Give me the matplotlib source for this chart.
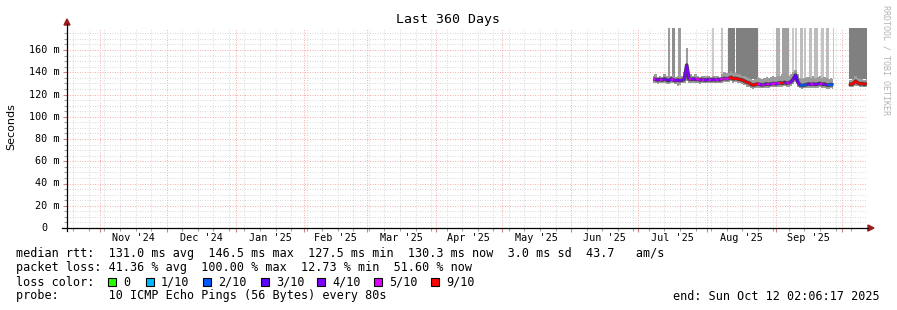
import datetime as dt
import matplotlib
matplotlib.use('Agg')
import matplotlib.pyplot as plt
import matplotlib.transforms as mtransforms
from matplotlib.lines import Line2D
from matplotlib.patches import Rectangle, Polygon

W, H = 897, 310
MONO = 'DejaVu Sans Mono'

# ---------------------------------------------------------------------------
# data (values in ms)
# ---------------------------------------------------------------------------
t_start = dt.datetime(2024, 10, 17, 2, 6, 17)
t_end = dt.datetime(2025, 10, 12, 2, 6, 17)

seg1_first = dt.datetime(2025, 7, 8)    # daily samples Jul 8 .. Sep 27
seg2_first = dt.datetime(2025, 10, 4)   # daily samples Oct 4 .. Oct 12

median_jul = [134.0, 133.5, 133.0, 133.5, 133.0, 134.0, 133.0, 132.5, 134.0, 133.0, 132.5, 133.0,
              132.5, 133.0, 134.0, 146.5, 134.0, 133.5, 134.0, 133.5, 133.5, 133.0, 133.5, 133.0]
median_aug = [133.0, 133.5, 133.0, 133.5, 133.0, 133.5, 133.0, 134.0, 134.5, 134.0, 134.5, 135.5,
              134.0, 134.5, 134.0, 133.5, 133.0, 132.0, 131.0, 130.5, 129.0, 128.5, 129.0, 129.5,
              129.0, 128.5, 129.0, 129.5, 129.0, 129.5, 130.0]
median_sep = [129.5, 130.0, 130.5, 130.0, 131.0, 130.0, 130.5, 131.5, 134.0, 137.5, 131.0, 128.5,
              128.0, 128.5, 129.0, 129.5, 129.0, 129.5, 129.0, 129.5, 130.0, 129.0, 129.5, 128.5,
              128.5, 129.0, 128.5]
median_oct = [129.5, 129.0, 130.0, 132.0, 130.5, 129.5, 130.0, 129.0, 130.3]

# packets lost out of 10
loss_jul = [5, 4, 4, 5, 4, 4, 3, 4, 5, 4, 4, 4, 4, 4, 4, 4, 5, 4, 4, 5, 5, 4, 5, 4]
loss_aug = [4, 5, 4, 4, 5, 4, 5, 5, 5, 5, 9, 9, 9, 9, 9, 9, 9, 9, 9, 9, 9, 9, 9, 5, 4, 5, 4, 5,
            4, 5, 5]
loss_sep = [4, 5, 9, 9, 4, 5, 4, 4, 3, 3, 4, 2, 2, 2, 4, 4, 5, 4, 4, 4, 5, 4, 4, 2, 2, 2, 1]
loss_oct = [9, 9, 9, 9, 9, 9, 9, 9, 9]

smoke_hi_jul = [137, 138, 136, 137, 136, 138, 137, 136, 137, 138, 136, 137, 136, 137, 140, 162,
                139, 138, 137, 138, 137, 136, 137, 137]
smoke_lo_jul = [130, 130, 129.5, 130, 130, 130.5, 129.5, 129, 130, 130, 129.5, 128, 128.5, 130,
                130.5, 132, 130, 130, 130.5, 130, 130, 129.5, 130, 130]
smoke_hi_aug = [136.5, 137, 136, 137, 136.5, 137, 136, 138, 140, 139, 139, 141, 139, 139, 138,
                138, 137, 137, 136, 135, 134, 133, 134, 136, 135, 134, 135, 136, 135, 136, 137]
smoke_lo_aug = [130, 130, 130, 130.5, 130, 130, 130, 130.5, 131, 131, 131, 132, 130.5, 131, 130.5,
                130, 129.5, 128.5, 127, 126.5, 125.5, 125, 125.5, 126, 126, 125.5, 126, 126, 126,
                126.5, 126.5]
smoke_hi_sep = [136, 137, 137, 138, 139, 137, 137, 138, 140, 142, 138, 135, 134, 135, 136, 136,
                135, 137, 135, 136, 137, 135, 136, 135, 134, 135, 134]
smoke_lo_sep = [126.5, 127, 127, 127, 127.5, 127, 127, 128, 129, 131, 127, 125.5, 125, 125.5, 126,
                126, 126, 126, 125.5, 126, 126.5, 125.5, 126, 125, 125, 125.5, 125]
smoke_hi_oct = [133, 133, 134, 137, 135, 134, 134, 133, 134]
smoke_lo_oct = [127, 126.5, 127, 128, 127.5, 127, 127, 126.5, 127]

# tall smoke columns reaching the top of the graph
bar_from = ['2025-07-14 10:00', '2025-07-16 05:00', '2025-07-18 22:00', '2025-08-03 05:00',
            '2025-08-07 10:00', '2025-08-10 17:00', '2025-08-14 02:00', '2025-09-01 05:00',
            '2025-09-03 22:00', '2025-09-08 07:00', '2025-09-09 17:00', '2025-09-12 02:00',
            '2025-09-13 22:00', '2025-09-16 05:00', '2025-09-18 10:00', '2025-09-21 12:00',
            '2025-09-23 17:00', '2025-09-26 17:00', '2025-10-04 05:00']
bar_to = ['2025-07-15 10:00', '2025-07-17 14:00', '2025-07-20 10:00', '2025-08-04 12:00',
          '2025-08-08 07:00', '2025-08-13 17:00', '2025-08-23 22:00', '2025-09-03 00:00',
          '2025-09-07 05:00', '2025-09-09 05:00', '2025-09-10 12:00', '2025-09-13 07:00',
          '2025-09-14 19:00', '2025-09-17 07:00', '2025-09-19 22:00', '2025-09-22 17:00',
          '2025-09-25 05:00', '2025-09-27 10:00', '2025-10-12 02:00']
bar_shade = ['#9c9c9c', '#8e8e8e', '#9c9c9c', '#cccccc', '#c4c4c4', '#808080', '#808080',
             '#b0b0b0', '#a0a0a0', '#c8c8c8', '#c8c8c8', '#bcbcbc', '#c4c4c4', '#c0c0c0',
             '#bcbcbc', '#c4c4c4', '#bcbcbc', '#c8c8c8', '#808080']
bar_floor = 134

loss_colors = {0: '#26ff00', 1: '#00b8ff', 2: '#0059ff', 3: '#5e00ff',
               4: '#7e00ff', 5: '#dd00ff', 9: '#ff0000'}
loss_labels = ['0', '1/10', '2/10', '3/10', '4/10', '5/10', '9/10']
loss_keys = [0, 1, 2, 3, 4, 5, 9]

month_labels = ["Nov '24", "Dec '24", "Jan '25", "Feb '25", "Mar '25", "Apr '25",
                "May '25", "Jun '25", "Jul '25", "Aug '25", "Sep '25"]
y_ticks = [0, 20, 40, 60, 80, 100, 120, 140, 160]
y_labels = ['0  ', '20 m', '40 m', '60 m', '80 m', '100 m', '120 m', '140 m', '160 m']

stats_rtt = "median rtt:  131.0 ms avg  146.5 ms max  127.5 ms min  130.3 ms now  3.0 ms sd  43.7   am/s"
stats_loss = "packet loss: 41.36 % avg  100.00 % max  12.73 % min  51.60 % now"
probe_text = "probe:       10 ICMP Echo Pings (56 Bytes) every 80s"
end_text = "end: Sun Oct 12 02:06:17 2025"

# ---------------------------------------------------------------------------
# assemble the segments
# ---------------------------------------------------------------------------
segments = [
    (seg1_first, median_jul + median_aug + median_sep, loss_jul + loss_aug + loss_sep,
     smoke_hi_jul + smoke_hi_aug + smoke_hi_sep, smoke_lo_jul + smoke_lo_aug + smoke_lo_sep),
    (seg2_first, median_oct, loss_oct, smoke_hi_oct, smoke_lo_oct),
]

fig = plt.figure(figsize=(W / 100, H / 100), dpi=100)
fig.patch.set_facecolor('white')
x0, x1, ybot, ytop = 66.9, 866.9, 228.0, 27.75
ax = fig.add_axes([x0 / W, 1 - ybot / H, (x1 - x0) / W, (ybot - ytop) / H])
ax.set_facecolor('white')
for s in ax.spines.values():
    s.set_visible(False)

ax.set_xlim(t_start, t_end)
ax.set_ylim(0, 180)

# grid
month_starts = [dt.datetime(2024 + (10 + i) // 12, (10 + i) % 12 + 1, 1) for i in range(12)]
sundays = []
d = dt.datetime(2024, 10, 20)
while d < t_end:
    sundays.append(d)
    d += dt.timedelta(days=7)

ax.set_xticks(month_starts)
ax.set_xticks(sundays, minor=True)
ax.set_yticks(y_ticks)
ax.set_yticks([v for v in range(5, 180, 5) if v % 20], minor=True)
ax.tick_params(which='both', labelleft=False, labelbottom=False, direction='out')
ax.tick_params(which='major', length=3, width=0.8, color='#d08080')
ax.tick_params(which='minor', length=2, width=0.8, color='#a0a0a0')
ax.grid(True, which='minor', color='#dadada', lw=0.72, ls=(0, (1, 1.5)))
ax.grid(True, which='major', color='#f4b0b0', lw=0.72, ls=(0, (1, 1.5)))
ax.set_axisbelow(True)

# tall columns
for a, b, c in zip(bar_from, bar_to, bar_shade):
    ta = dt.datetime.fromisoformat(a)
    tb = dt.datetime.fromisoformat(b)
    ax.fill_between([ta, tb], bar_floor, 180, color=c, lw=0, zorder=2)

# smoke + median
for first, med, loss, hi, lo in segments:
    days = [first + dt.timedelta(days=i) for i in range(len(med))]
    ax.fill_between(days, lo, hi, step='mid', color='#9c9c9c', lw=0, zorder=3)
    ax.plot(days, med, color='#404040', lw=2.6, zorder=4, solid_capstyle='butt')
    for i in range(len(med) - 1):
        ax.plot(days[i:i + 2], med[i:i + 2], color=loss_colors[loss[i]], lw=1.7,
                zorder=5, solid_capstyle='butt')

# month labels at mid-month
xtr = mtransforms.blended_transform_factory(ax.transData, ax.transAxes)
for i, lab in enumerate(month_labels):
    m0, m1 = month_starts[i], month_starts[i + 1]
    ax.text(m0 + (m1 - m0) / 2, -10 / (ybot - ytop), lab, transform=xtr, ha='center',
            va='center', family=MONO, fontsize=7.3)

ytr = mtransforms.blended_transform_factory(ax.transAxes, ax.transData)
for v, lab in zip(y_ticks, y_labels):
    ax.text(-7 / (x1 - x0), v, lab, transform=ytr, ha='right', va='center',
            family=MONO, fontsize=7.3)


def fx(px):
    return px / W


def fy(py):
    return 1 - py / H


# axis lines with arrows
axis_col = '#000000'
arrow_col = '#9b1c1c'
fig.add_artist(Line2D([fx(67), fx(67)], [fy(231), fy(24)], color=axis_col, lw=0.9))
fig.add_artist(Line2D([fx(62), fx(868)], [fy(228), fy(228)], color=axis_col, lw=0.9))
fig.add_artist(Polygon([(fx(64), fy(25)), (fx(70), fy(25)), (fx(67), fy(19))], closed=True,
                       color=arrow_col, transform=fig.transFigure))
fig.add_artist(Polygon([(fx(868), fy(225)), (fx(868), fy(231)), (fx(874), fy(228))], closed=True,
                       color=arrow_col, transform=fig.transFigure))

# titles
fig.text(fx(448), fy(19), 'Last 360 Days', ha='center', va='center', family=MONO, fontsize=9.5)
fig.text(fx(11), fy(127), 'Seconds', rotation=90, ha='center', va='center', fontsize=8)
fig.text(fx(886), fy(60), 'RRDTOOL / TOBI OETIKER', rotation=270, ha='center', va='center',
         family=MONO, fontsize=6, color='#b4b4b4')

# legend block
fs = 8.5
fig.text(fx(16), fy(254), stats_rtt, ha='left', va='center', family=MONO, fontsize=fs)
fig.text(fx(16), fy(268), stats_loss, ha='left', va='center', family=MONO, fontsize=fs)
fig.text(fx(16), fy(282), 'loss color:', ha='left', va='center', family=MONO, fontsize=fs)
fig.text(fx(16), fy(296), probe_text, ha='left', va='center', family=MONO, fontsize=fs)
fig.text(fx(880), fy(296), end_text, ha='right', va='center', family=MONO, fontsize=fs)

box_x = [108, 146, 203, 261, 317, 374, 431]
for bx, key, lab in zip(box_x, loss_keys, loss_labels):
    fig.add_artist(Rectangle((fx(bx), fy(286)), 8 / W, 8 / H, transform=fig.transFigure,
                             facecolor=loss_colors[key], edgecolor='black', lw=0.8))
    fig.text(fx(bx + 15), fy(282), lab, ha='left', va='center', family=MONO, fontsize=fs)

fig.savefig('out.png', dpi=100, facecolor='white')
